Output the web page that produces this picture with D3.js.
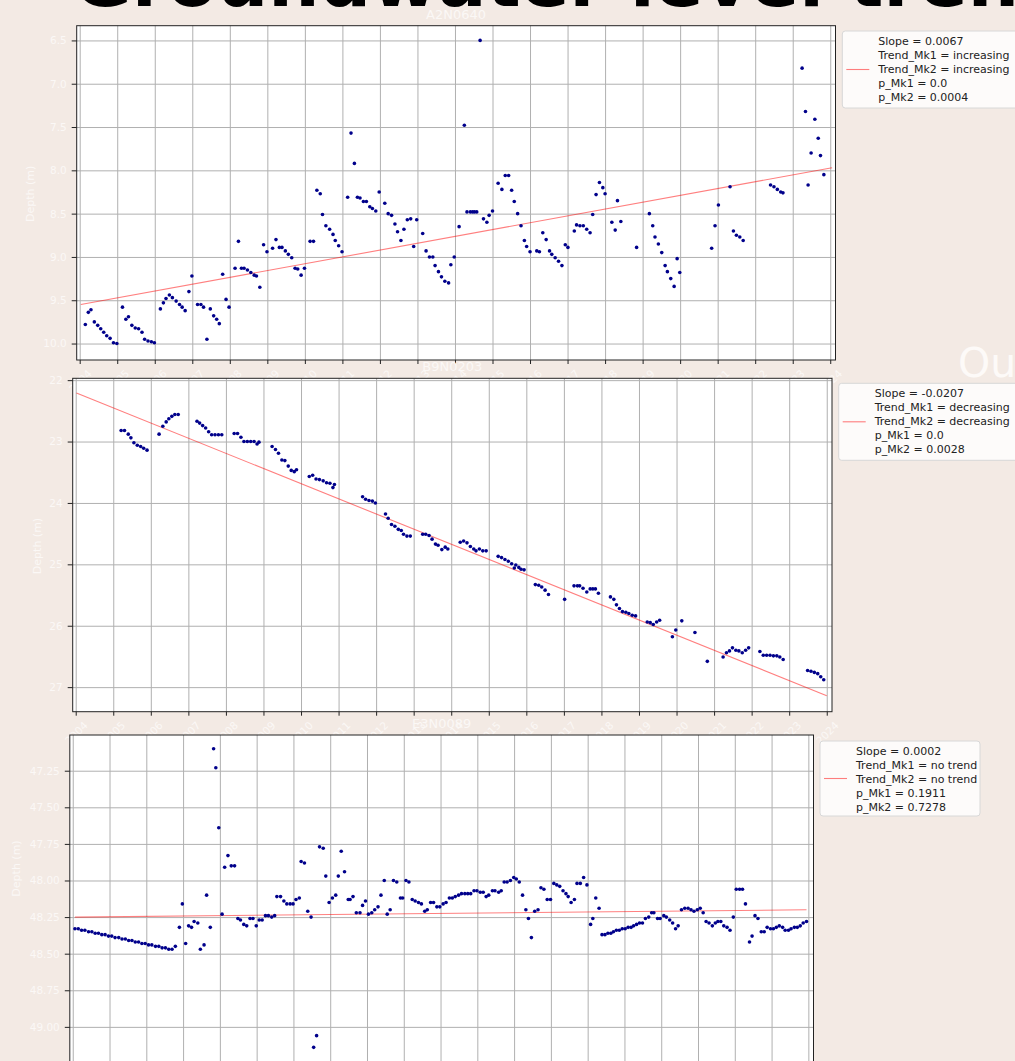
<!DOCTYPE html>
<html>
<head>
<meta charset="utf-8">
<script src="https://cdnjs.cloudflare.com/ajax/libs/d3/7.8.5/d3.min.js"></script>
<style>
body{margin:0;background:#f3eae4;}
svg{display:block;}
</style>
</head>
<body>
<div id="chart"></div>
<script>
// values: [decimal year, depth (m)]
var years = d3.range(2004, 2025);

var a2n0640 = [
[2004.15,9.78],[2004.23,9.64],[2004.30,9.61],[2004.39,9.75],[2004.48,9.79],[2004.56,9.83],[2004.64,9.87],[2004.72,9.91],[2004.81,9.94],[2004.90,9.99],[2004.99,10.00],
[2005.14,9.58],[2005.23,9.72],[2005.30,9.69],[2005.39,9.79],[2005.48,9.82],[2005.57,9.83],[2005.66,9.87],[2005.73,9.95],[2005.82,9.97],[2005.91,9.98],[2005.99,9.99],
[2006.15,9.60],[2006.23,9.53],[2006.30,9.48],[2006.39,9.44],[2006.47,9.47],[2006.57,9.51],[2006.66,9.55],[2006.73,9.58],[2006.81,9.62],[2006.91,9.40],[2006.99,9.22],
[2007.14,9.55],[2007.23,9.55],[2007.30,9.58],[2007.39,9.95],[2007.48,9.60],[2007.57,9.68],[2007.65,9.72],[2007.72,9.77],[2007.81,9.20],[2007.90,9.49],[2007.98,9.58],
[2008.14,9.13],[2008.23,8.82],[2008.31,9.13],[2008.38,9.13],[2008.47,9.15],[2008.56,9.18],[2008.65,9.21],[2008.71,9.22],[2008.80,9.35],[2008.90,8.86],[2008.99,8.94],
[2009.14,8.90],[2009.23,8.80],[2009.32,8.89],[2009.39,8.89],[2009.48,8.93],[2009.56,8.97],[2009.65,9.01],[2009.74,9.13],[2009.81,9.14],[2009.90,9.21],[2009.99,9.13],
[2010.14,8.82],[2010.23,8.82],[2010.32,8.23],[2010.41,8.27],[2010.47,8.51],[2010.56,8.64],[2010.66,8.68],[2010.75,8.74],[2010.81,8.81],[2010.90,8.87],[2010.99,8.94],
[2011.14,8.31],[2011.23,7.57],[2011.32,7.92],[2011.40,8.31],[2011.47,8.32],[2011.56,8.36],[2011.64,8.36],[2011.73,8.42],[2011.80,8.44],[2011.89,8.47],[2011.98,8.25],
[2012.13,8.38],[2012.22,8.50],[2012.31,8.52],[2012.40,8.62],[2012.47,8.71],[2012.56,8.81],[2012.64,8.68],[2012.73,8.57],[2012.82,8.56],[2012.90,8.88],[2012.98,8.57],
[2013.14,8.73],[2013.23,8.93],[2013.32,9.00],[2013.41,9.00],[2013.47,9.10],[2013.56,9.17],[2013.64,9.23],[2013.73,9.28],[2013.83,9.30],[2013.89,9.09],[2013.98,9.00],
[2014.11,8.65],[2014.25,7.48],[2014.32,8.48],[2014.41,8.48],[2014.47,8.48],[2014.52,8.48],[2014.58,8.48],[2014.67,6.50],[2014.76,8.56],[2014.85,8.60],[2014.91,8.52],[2015.00,8.47],
[2015.15,8.15],[2015.25,8.22],[2015.34,8.06],[2015.43,8.06],[2015.51,8.23],[2015.58,8.36],[2015.67,8.50],[2015.76,8.64],[2015.85,8.81],[2015.91,8.88],[2016.00,8.94],
[2016.18,8.93],[2016.25,8.94],[2016.34,8.72],[2016.43,8.80],[2016.52,8.93],[2016.58,8.97],[2016.67,9.01],[2016.76,9.05],[2016.85,9.10],[2016.94,8.86],[2017.01,8.89],
[2017.18,8.70],[2017.24,8.63],[2017.33,8.64],[2017.42,8.64],[2017.51,8.68],[2017.60,8.72],[2017.67,8.51],[2017.76,8.28],[2017.85,8.14],[2017.94,8.20],[2018.00,8.27],
[2018.18,8.60],[2018.27,8.69],[2018.33,8.35],[2018.42,8.59],[2018.84,8.89],
[2019.18,8.50],[2019.27,8.64],[2019.33,8.77],[2019.42,8.85],[2019.51,8.95],[2019.60,9.10],[2019.66,9.17],[2019.75,9.25],[2019.84,9.34],[2019.92,9.02],[2019.99,9.18],
[2020.84,8.90],[2020.93,8.64],[2021.02,8.40],[2021.33,8.19],[2021.42,8.70],[2021.50,8.75],[2021.59,8.77],[2021.68,8.81],
[2022.41,8.17],[2022.50,8.19],[2022.59,8.22],[2022.68,8.25],[2022.74,8.26],
[2023.25,6.82],[2023.34,7.32],[2023.41,8.17],[2023.49,7.80],[2023.59,7.41],[2023.68,7.63],[2023.74,7.83],[2023.83,8.05]
];
var a2Trend = [[2004.03,9.55],[2024.05,7.97]];
var a2Ticks = [6.5,7.0,7.5,8.0,8.5,9.0,9.5,10.0];
var a2Legend = ["Slope = 0.0067","Trend_Mk1 = increasing","Trend_Mk2 = increasing","p_Mk1 = 0.0","p_Mk2 = 0.0004"];

var b9n0203 = [
[2005.21,22.82],[2005.30,22.82],[2005.40,22.88],[2005.47,22.94],[2005.55,23.02],[2005.64,23.06],[2005.73,23.08],[2005.81,23.11],[2005.90,23.14],
[2006.22,22.88],[2006.32,22.75],[2006.41,22.68],[2006.48,22.63],[2006.56,22.59],[2006.64,22.56],[2006.73,22.56],
[2007.23,22.67],[2007.30,22.70],[2007.38,22.74],[2007.46,22.78],[2007.54,22.84],[2007.62,22.89],[2007.71,22.89],[2007.80,22.89],[2007.89,22.89],
[2008.22,22.87],[2008.31,22.87],[2008.40,22.93],[2008.48,23.00],[2008.57,23.00],[2008.66,23.00],[2008.75,23.00],[2008.83,23.04],[2008.88,23.01],
[2009.23,23.08],[2009.32,23.13],[2009.40,23.19],[2009.49,23.30],[2009.57,23.31],[2009.66,23.40],[2009.74,23.47],[2009.82,23.49],[2009.88,23.46],
[2010.22,23.57],[2010.31,23.55],[2010.40,23.61],[2010.49,23.62],[2010.59,23.64],[2010.68,23.67],[2010.77,23.68],[2010.85,23.75],[2010.89,23.70],
[2011.64,23.90],[2011.72,23.94],[2011.81,23.96],[2011.90,23.97],[2011.98,24.00],
[2012.25,24.18],[2012.32,24.25],[2012.41,24.35],[2012.50,24.38],[2012.59,24.43],[2012.67,24.45],[2012.73,24.51],[2012.82,24.54],[2012.91,24.54],
[2013.24,24.51],[2013.32,24.51],[2013.41,24.53],[2013.49,24.59],[2013.58,24.67],[2013.65,24.69],[2013.75,24.76],[2013.84,24.72],[2013.91,24.75],
[2014.24,24.64],[2014.33,24.62],[2014.42,24.65],[2014.51,24.71],[2014.60,24.75],[2014.66,24.78],[2014.75,24.75],[2014.84,24.78],[2014.93,24.78],
[2015.25,24.87],[2015.34,24.89],[2015.43,24.92],[2015.52,24.95],[2015.61,24.99],[2015.68,25.06],[2015.72,25.01],[2015.80,25.05],[2015.86,25.08],[2015.94,25.09],
[2016.24,25.33],[2016.33,25.34],[2016.41,25.37],[2016.50,25.42],[2016.59,25.49],[2017.02,25.57],
[2017.27,25.35],[2017.36,25.35],[2017.42,25.35],[2017.51,25.39],[2017.61,25.45],[2017.70,25.40],[2017.77,25.40],[2017.84,25.40],[2017.92,25.47],
[2018.24,25.53],[2018.33,25.57],[2018.40,25.66],[2018.48,25.72],[2018.56,25.77],[2018.65,25.78],[2018.73,25.80],[2018.82,25.83],[2018.91,25.84],
[2019.22,25.94],[2019.30,25.95],[2019.38,25.98],[2019.47,25.94],[2019.55,25.91],[2019.89,26.18],[2019.98,26.07],[2020.14,25.92],[2020.49,26.11],[2020.82,26.58],
[2021.24,26.51],[2021.33,26.44],[2021.41,26.41],[2021.49,26.36],[2021.58,26.40],[2021.66,26.41],[2021.75,26.44],[2021.84,26.40],[2021.92,26.36],
[2022.22,26.42],[2022.31,26.48],[2022.40,26.48],[2022.49,26.48],[2022.58,26.49],[2022.67,26.49],[2022.75,26.51],[2022.84,26.55],
[2023.49,26.73],[2023.58,26.74],[2023.67,26.76],[2023.76,26.78],[2023.84,26.83],[2023.92,26.88]
];
var b9Trend = [[2004.02,22.21],[2024.00,27.14]];
var b9Ticks = [22,23,24,25,26,27];
var b9Legend = ["Slope = -0.0207","Trend_Mk1 = decreasing","Trend_Mk2 = decreasing","p_Mk1 = 0.0","p_Mk2 = 0.0028"];

var e3n0089 = [
[2004.06,48.33],[2004.15,48.33],[2004.24,48.34],[2004.33,48.34],[2004.43,48.35],[2004.52,48.35],[2004.61,48.36],[2004.70,48.36],[2004.79,48.37],[2004.88,48.37],
[2004.97,48.38],[2005.06,48.38],[2005.15,48.39],[2005.25,48.39],[2005.34,48.40],[2005.43,48.40],[2005.52,48.41],[2005.61,48.41],[2005.70,48.42],[2005.79,48.42],
[2005.88,48.43],[2005.97,48.43],[2006.06,48.44],[2006.15,48.44],[2006.25,48.45],[2006.34,48.45],[2006.43,48.46],[2006.52,48.46],[2006.61,48.47],[2006.70,48.47],[2006.79,48.45],
[2006.90,48.32],[2006.98,48.16],[2007.07,48.43],[2007.15,48.31],[2007.23,48.32],[2007.30,48.28],[2007.40,48.29],[2007.47,48.47],[2007.57,48.44],[2007.64,48.10],
[2007.74,48.32],[2007.83,47.10],[2007.89,47.23],[2007.97,47.64],[2008.06,48.23],[2008.13,47.91],[2008.22,47.83],[2008.31,47.90],[2008.40,47.90],[2008.49,48.26],
[2008.56,48.27],[2008.65,48.30],[2008.73,48.31],[2008.82,48.26],[2008.90,48.26],[2008.99,48.31],[2009.07,48.27],[2009.15,48.27],[2009.24,48.24],[2009.32,48.24],
[2009.41,48.25],[2009.49,48.24],[2009.55,48.11],[2009.65,48.11],[2009.74,48.14],[2009.82,48.16],[2009.91,48.16],[2009.99,48.16],[2010.07,48.13],[2010.16,48.12],
[2010.21,47.87],[2010.30,47.88],[2010.39,48.21],[2010.48,48.25],[2010.55,49.14],[2010.63,49.06],[2010.71,47.77],[2010.81,47.78],[2010.88,47.97],[2010.97,48.15],
[2011.06,48.12],[2011.15,48.10],[2011.22,47.97],[2011.30,47.80],[2011.39,47.94],[2011.49,48.13],[2011.54,48.13],[2011.62,48.11],[2011.71,48.22],[2011.81,48.22],
[2011.88,48.17],[2011.96,48.14],[2012.04,48.23],[2012.13,48.22],[2012.21,48.20],[2012.30,48.18],[2012.38,48.10],[2012.47,48.00],[2012.55,48.23],[2012.63,48.20],
[2012.72,48.00],[2012.81,48.01],[2012.91,48.12],[2012.97,48.12],[2013.06,48.00],[2013.14,48.01],[2013.23,48.13],[2013.31,48.14],[2013.40,48.15],[2013.48,48.16],
[2013.57,48.21],[2013.64,48.20],[2013.73,48.15],[2013.81,48.15],[2013.90,48.18],[2013.98,48.18],[2014.07,48.16],[2014.15,48.15],[2014.24,48.12],[2014.32,48.12],
[2014.40,48.11],[2014.49,48.10],[2014.57,48.09],[2014.66,48.09],[2014.74,48.09],[2014.82,48.09],[2014.91,48.07],[2014.99,48.07],[2015.08,48.08],[2015.16,48.08],
[2015.24,48.11],[2015.31,48.10],[2015.41,48.07],[2015.48,48.07],[2015.58,48.08],[2015.65,48.07],[2015.73,48.01],[2015.81,48.01],[2015.90,48.00],[2015.99,47.98],
[2016.06,47.99],[2016.14,48.01],[2016.23,48.10],[2016.32,48.20],[2016.39,48.26],[2016.47,48.39],[2016.56,48.21],[2016.65,48.20],[2016.73,48.05],[2016.81,48.06],
[2016.90,48.13],[2016.99,48.13],[2017.08,48.02],[2017.16,48.03],[2017.24,48.04],[2017.33,48.07],[2017.41,48.09],[2017.47,48.11],[2017.55,48.15],[2017.64,48.13],
[2017.71,48.02],[2017.80,48.02],[2017.89,47.98],[2017.98,48.03],[2018.08,48.30],[2018.14,48.26],[2018.22,48.12],[2018.31,48.19],
[2018.39,48.37],[2018.47,48.37],[2018.55,48.36],[2018.63,48.36],[2018.70,48.35],[2018.78,48.34],[2018.86,48.34],[2018.94,48.33],[2019.02,48.33],[2019.10,48.32],
[2019.18,48.32],[2019.25,48.31],[2019.33,48.30],[2019.41,48.29],[2019.49,48.29],[2019.57,48.26],[2019.66,48.25],[2019.74,48.22],[2019.80,48.22],
[2019.90,48.26],[2019.97,48.26],[2020.07,48.24],[2020.14,48.25],[2020.23,48.27],[2020.31,48.29],[2020.39,48.33],[2020.46,48.31],[2020.55,48.20],[2020.64,48.19],
[2020.73,48.19],[2020.81,48.20],[2020.89,48.21],[2020.98,48.20],[2021.06,48.19],[2021.14,48.22],[2021.22,48.28],[2021.30,48.29],[2021.39,48.31],[2021.47,48.29],
[2021.54,48.28],[2021.62,48.28],[2021.70,48.31],[2021.79,48.32],[2021.87,48.34],[2021.96,48.25],[2022.04,48.06],[2022.13,48.06],[2022.21,48.06],[2022.29,48.16],
[2022.40,48.42],[2022.47,48.38],[2022.55,48.24],[2022.63,48.26],[2022.72,48.35],[2022.80,48.35],[2022.88,48.32],[2022.97,48.33],[2023.05,48.33],[2023.13,48.32],
[2023.21,48.31],[2023.30,48.32],[2023.37,48.34],[2023.46,48.34],[2023.53,48.33],[2023.62,48.32],[2023.70,48.32],[2023.78,48.31],[2023.86,48.29],[2023.95,48.28]
];
var e3Trend = [[2004.06,48.25],[2023.95,48.20]];
var e3Ticks = [47.25,47.50,47.75,48.00,48.25,48.50,48.75,49.00];
var e3Legend = ["Slope = 0.0002","Trend_Mk1 = no trend","Trend_Mk2 = no trend","p_Mk1 = 0.1911","p_Mk2 = 0.7278"];

// layout
var W = 1015, H = 1061;
var bg = '#f3eae4', light = '#fbf8f6';
var xDomain = [2003.92, 2024.14];

var panels = [
  {title:'A2N0640', data:a2n0640, trend:a2Trend, ticks:a2Ticks, fmt:d3.format('.1f'), legend:a2Legend,
   x0:76.7, x1:835.5, y0:25.7, y1:360, yDomain:[6.33,10.19], labX:30, leg:[842.3,31,185,77]},
  {title:'B9N0203', data:b9n0203, trend:b9Trend, ticks:b9Ticks, fmt:d3.format('d'), legend:b9Legend,
   x0:72.7, x1:832, y0:378.3, y1:711.7, yDomain:[21.97,27.40], labX:37.5, leg:[838.7,383.3,185,77]},
  {title:'E3N0089', data:e3n0089, trend:e3Trend, ticks:e3Ticks, fmt:d3.format('.2f'), legend:e3Legend,
   x0:69.8, x1:813.5, y0:735, y1:1062, yDomain:[47.006,49.24], labX:16.7, leg:[820,741,160,75]}
];

var svg = d3.select('#chart').append('svg')
    .attr('width', W).attr('height', H)
    .style('background-color', bg)
    .style('font-family', 'DejaVu Sans, sans-serif');

// big figure title, mostly above the page
svg.append('text')
    .attr('x', 73).attr('y', 6)
    .attr('font-size', '72px').attr('font-weight', 'bold')
    .attr('fill', '#000')
    .text('Groundwater level trend');

panels.forEach(drawPanel);

// title of the next figure, clipped at the right edge
svg.append('text')
    .attr('x', 958).attr('y', 377)
    .attr('font-size', '41px')
    .attr('fill', '#fdfaf8')
    .text('Outliers');

function drawPanel(p) {
    var g = svg.append('g');
    var x = d3.scaleLinear().domain(xDomain).range([p.x0, p.x1]);
    var y = d3.scaleLinear().domain(p.yDomain).range([p.y0, p.y1]);
    var h = p.y1 - p.y0, w = p.x1 - p.x0;

    g.append('rect')
        .attr('x', p.x0).attr('y', p.y0)
        .attr('width', w).attr('height', h)
        .attr('fill', '#fff');

    // grid
    g.append('g')
        .attr('transform', 'translate(0,' + p.y1 + ')')
        .call(d3.axisBottom(x).tickValues(years).tickSize(-h).tickFormat(''))
        .call(function(a){ a.select('.domain').remove(); })
        .selectAll('line').attr('stroke', '#b0b0b0').attr('stroke-width', 1);
    g.append('g')
        .attr('transform', 'translate(' + p.x0 + ',0)')
        .call(d3.axisLeft(y).tickValues(p.ticks).tickSize(-w).tickFormat(''))
        .call(function(a){ a.select('.domain').remove(); })
        .selectAll('line').attr('stroke', '#b0b0b0').attr('stroke-width', 1);

    // trend
    g.append('path')
        .attr('d', d3.line().x(function(d){return x(d[0]);}).y(function(d){return y(d[1]);})(p.trend))
        .attr('fill', 'none')
        .attr('stroke', '#ff0000')
        .attr('stroke-opacity', 0.5)
        .attr('stroke-width', 1.1);

    // observations
    g.append('g').selectAll('circle')
        .data(p.data).enter()
        .append('circle')
        .attr('cx', function(d){return x(d[0]);})
        .attr('cy', function(d){return y(d[1]);})
        .attr('r', 1.8)
        .attr('fill', '#00008b');

    // frame
    g.append('rect')
        .attr('x', p.x0).attr('y', p.y0)
        .attr('width', w).attr('height', h)
        .attr('fill', 'none')
        .attr('stroke', '#222').attr('stroke-width', 1);

    // axes
    var xa = g.append('g')
        .attr('transform', 'translate(0,' + p.y1 + ')')
        .call(d3.axisBottom(x).tickValues(years).tickSize(4).tickFormat(d3.format('d')));
    xa.select('.domain').remove();
    xa.selectAll('line').attr('stroke', '#222');
    xa.selectAll('text')
        .attr('fill', light).attr('font-size', '10.5px')
        .attr('font-family', 'DejaVu Sans, sans-serif')
        .attr('dy', null).attr('y', null)
        .attr('dominant-baseline', 'central')
        .attr('text-anchor', 'middle')
        .attr('transform', 'translate(0,21) rotate(-45)');

    var ya = g.append('g')
        .attr('transform', 'translate(' + p.x0 + ',0)')
        .call(d3.axisLeft(y).tickValues(p.ticks).tickSize(5).tickPadding(5).tickFormat(p.fmt));
    ya.select('.domain').remove();
    ya.selectAll('line').attr('stroke', '#222');
    ya.selectAll('text')
        .attr('fill', light).attr('font-size', '10.5px')
        .attr('font-family', 'DejaVu Sans, sans-serif');

    g.append('text')
        .attr('transform', 'translate(' + p.labX + ',' + ((p.y0 + Math.min(p.y1, 1000)) / 2 + 1) + ') rotate(-90)')
        .attr('text-anchor', 'middle')
        .attr('dominant-baseline', 'central')
        .attr('font-size', '11px')
        .attr('fill', light)
        .text('Depth (m)');

    g.append('text')
        .attr('x', (p.x0 + p.x1) / 2).attr('y', p.y0 - 7)
        .attr('text-anchor', 'middle')
        .attr('font-size', '13px')
        .attr('fill', light)
        .text(p.title);

    // legend
    var L = p.leg;
    var lg = svg.append('g');
    lg.append('rect')
        .attr('x', L[0]).attr('y', L[1])
        .attr('width', L[2]).attr('height', L[3])
        .attr('rx', 3)
        .attr('fill', '#fff').attr('fill-opacity', 0.8)
        .attr('stroke', '#d8d8d8');
    lg.append('line')
        .attr('x1', L[0] + 4).attr('x2', L[0] + 27)
        .attr('y1', L[1] + L[3] / 2).attr('y2', L[1] + L[3] / 2)
        .attr('stroke', '#ff0000').attr('stroke-opacity', 0.5).attr('stroke-width', 1.1);
    lg.selectAll('text')
        .data(p.legend).enter()
        .append('text')
        .attr('x', L[0] + 36)
        .attr('y', function(d, i){ return L[1] + 13.5 + i * 14; })
        .attr('font-size', '11px')
        .attr('fill', '#222')
        .text(function(d){ return d; });
}
</script>
</body>
</html>
